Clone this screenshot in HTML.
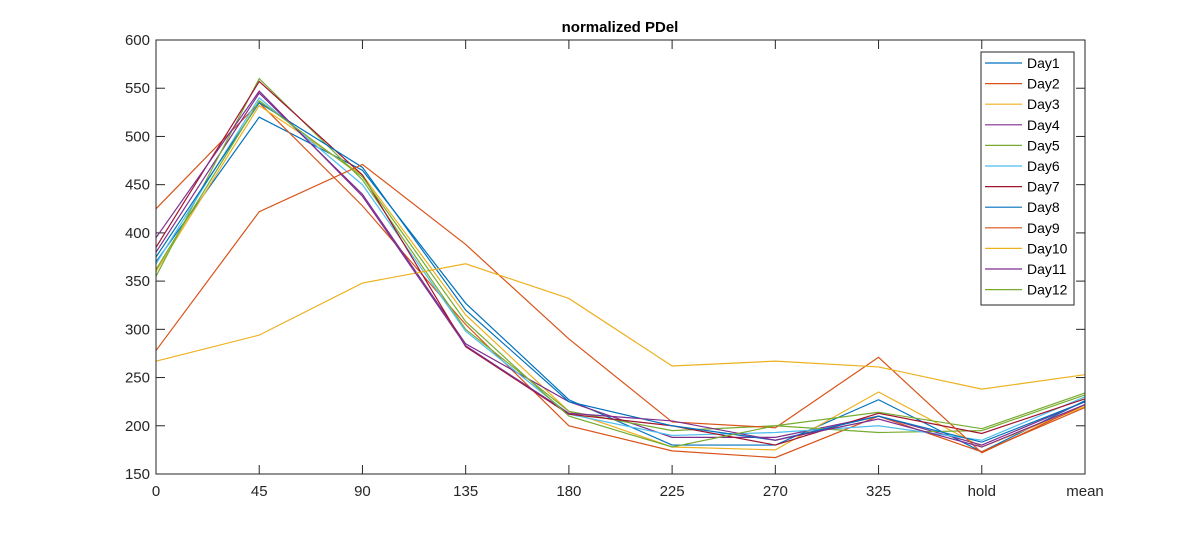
<!DOCTYPE html>
<html><head><meta charset="utf-8"><style>
body{margin:0;background:#fff;}
svg text{font-family:"Liberation Sans",Arial,sans-serif;}
</style></head><body>
<svg id="chart" width="1200" height="533" xmlns="http://www.w3.org/2000/svg">
<rect x="0" y="0" width="1200" height="533" fill="#fff"/>
<text x="620" y="32" text-anchor="middle" font-size="15" font-weight="bold" fill="#000">normalized PDel</text>
<g id="grid"></g>
<g id="lines"></g>
<rect x="156" y="40" width="929" height="434" fill="none" stroke="#262626" stroke-width="1"/>
<g id="legend"></g>
</svg>
<script>
const categories=["0","45","90","135","180","225","270","325","hold","mean"];
const yTicks=[150,200,250,300,350,400,450,500,550,600];
const seriesNames=["Day1","Day2","Day3","Day4","Day5","Day6","Day7","Day8","Day9","Day10","Day11","Day12"];
const day1=[370,520,465,327,227,180,180,227,173,226];
const day2=[425,535,428,305,200,174,167,210,173,219];
const day3=[360,532,460,315,215,178,175,235,178,220];
const day4=[380,545,440,285,225,188,188,210,180,225];
const day5=[355,560,455,300,215,195,200,193,195,232];
const day6=[368,540,450,298,212,190,193,200,185,230];
const day7=[385,557,460,282,212,200,180,213,192,228];
const day8=[375,535,468,320,225,200,185,210,183,225];
const day9=[278,422,471,388,290,204,198,271,172,222];
const day10=[267,294,348,368,332,262,267,261,238,253];
const day11=[395,547,438,283,213,205,185,207,178,222];
const day12=[362,537,458,308,210,178,200,214,197,234];
const seriesValues=[day1,day2,day3,day4,day5,day6,day7,day8,day9,day10,day11,day12];
const colors=["#0072BD","#D95319","#EDB120","#7E2F8E","#77AC30","#4DBEEE","#A2142F","#0072BD","#D95319","#EDB120","#7E2F8E","#77AC30"];
const NS="http://www.w3.org/2000/svg";
const L=156,R=1085,T=40,B=474;
const xs=i=>L+i*(R-L)/(categories.length-1);
const ys=v=>B-(v-150)/(600-150)*(B-T);
const grid=document.getElementById('grid');
function mk(tag,attrs,parent){const e=document.createElementNS(NS,tag);for(const k in attrs)e.setAttribute(k,attrs[k]);parent.appendChild(e);return e;}
categories.forEach((c,i)=>{
  const x=xs(i);
  const t=mk('line',{x1:x,x2:x,y1:B,y2:B-9,stroke:'#262626'},grid);
  
  
  const t2=mk('line',{x1:x,x2:x,y1:T,y2:T+9,stroke:'#262626'},grid);
  
  
  const lb=mk('text',{x:x,y:B+22,'text-anchor':'middle','font-size':15,fill:'#262626'},grid);
  lb.textContent=c;
  
  
});
yTicks.forEach(v=>{
  const y=ys(v);
  const t=mk('line',{x1:L,x2:L+9,y1:y,y2:y,stroke:'#262626'},grid);
  
  
  const t2=mk('line',{x1:R,x2:R-9,y1:y,y2:y,stroke:'#262626'},grid);
  
  
  const lb=mk('text',{x:L-6,y:y+5,'text-anchor':'end','font-size':15,fill:'#262626'},grid);
  lb.textContent=v;
  
  
});
const lines=document.getElementById('lines');
seriesValues.forEach((vals,s)=>{
  const p=mk('polyline',{points:vals.map((v,i)=>xs(i)+','+ys(v)).join(' '),fill:'none',stroke:colors[s],'stroke-width':1.2},lines);
  
  
});
const lg=document.getElementById('legend');
const box=mk('rect',{x:981,y:52,width:93,height:253,fill:'#fff',stroke:'#262626'},lg);


seriesNames.forEach((n,s)=>{
  const y=63+s*20.6;
  const ln=mk('line',{x1:985,x2:1022,y1:y,y2:y,stroke:colors[s],'stroke-width':1.2},lg);
  
  
  const tx=mk('text',{x:1027,y:y+5,'font-size':14,fill:'#000'},lg);
  tx.textContent=n;
  
  
});
</script>
</body></html>
